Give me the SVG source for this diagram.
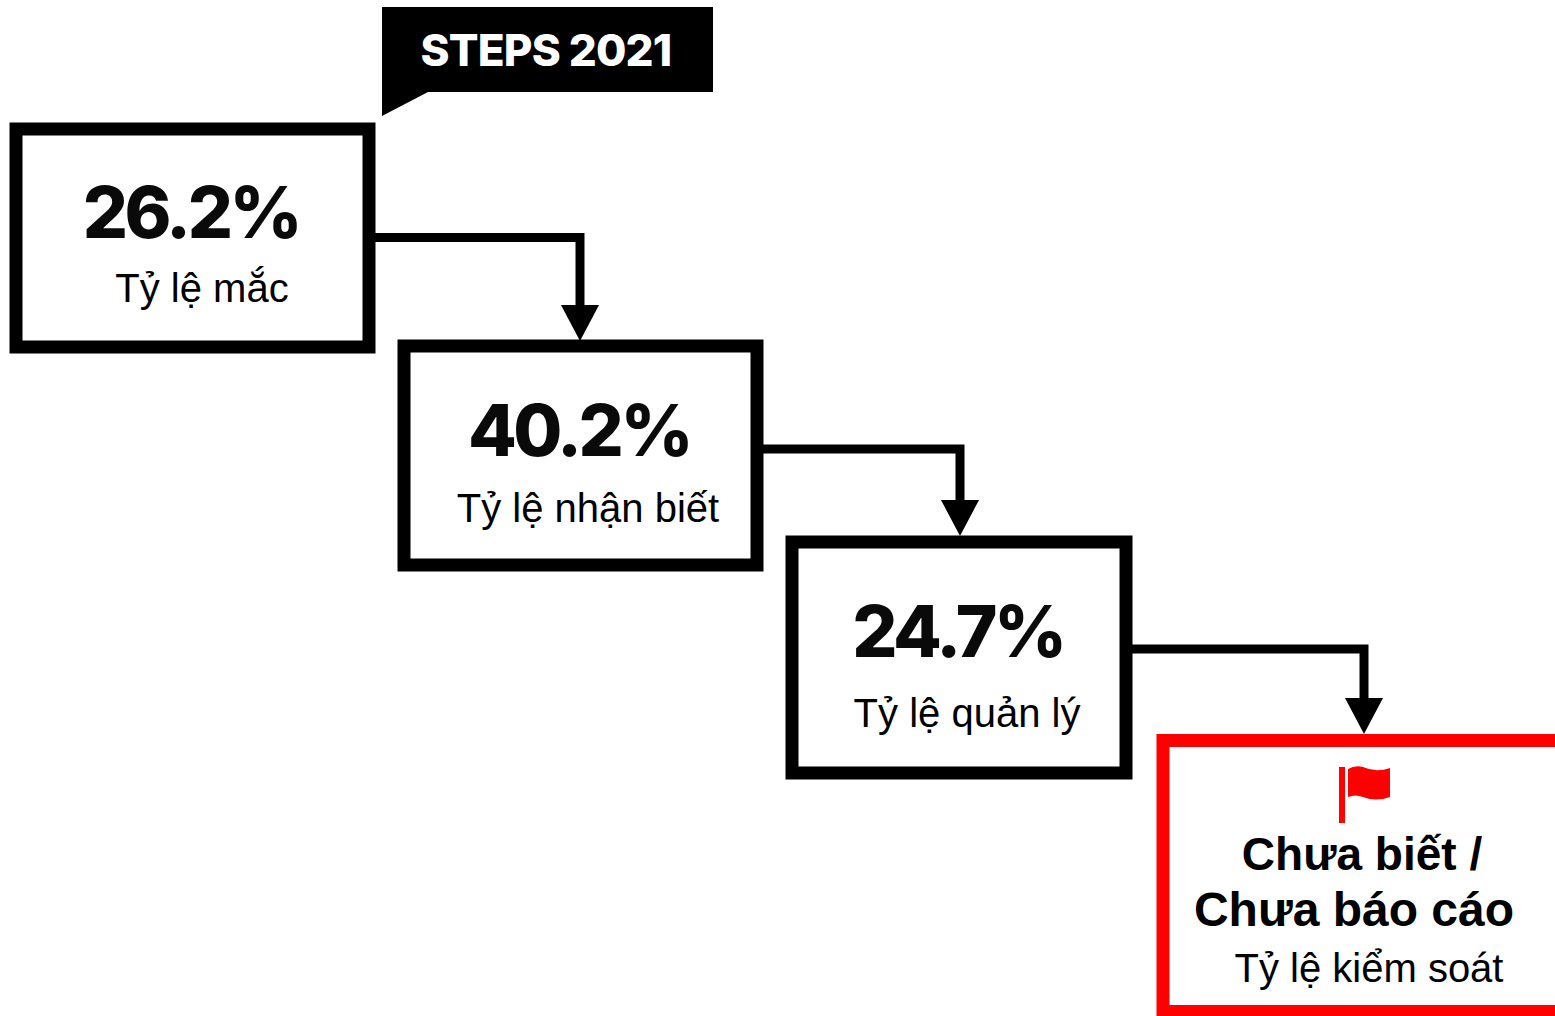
<svg xmlns="http://www.w3.org/2000/svg" width="1555" height="1016" viewBox="0 0 1555 1016">
<defs><style>
.box{fill:#fff;stroke:#000;stroke-width:13}
.red{fill:#fff;stroke:#fe0000;stroke-width:13}
.num{font-family:Inter,"Liberation Sans",sans-serif;font-weight:800;font-size:71px;fill:#0a0a0a;text-anchor:middle;letter-spacing:-3.4px}
.lab{font-family:"Liberation Sans",sans-serif;font-size:40px;fill:#000;text-anchor:middle}
.big{font-family:"Liberation Sans",sans-serif;font-weight:700;font-size:48px;fill:#000;text-anchor:middle}
.conn{fill:none;stroke:#000;stroke-width:9}
</style>
<marker id="arrow" markerUnits="userSpaceOnUse" markerWidth="36" markerHeight="38" refX="0" refY="19" orient="auto"><polygon points="0,0 36,19 0,38" fill="#000"/></marker>
</defs>
<rect width="1555" height="1016" fill="#fff"/>
<g id="connectors">
<path class="conn" d="M375 237.500H580V305" marker-end="url(#arrow)"/>
<path class="conn" d="M763 449H960V500" marker-end="url(#arrow)"/>
<path class="conn" d="M1132 649H1364V698" marker-end="url(#arrow)"/>
</g>
<g id="badge"><polygon points="382,7 713,7 713,92 428,92 382,116" fill="#000"/><text x="546" y="66" font-family="Inter,'Liberation Sans',sans-serif" font-weight="800" font-size="44" fill="#fff" text-anchor="middle" letter-spacing="-0.8">STEPS 2021</text></g>
<g id="node1"><rect class="box" x="16" y="129" width="353" height="218"/><text class="num" x="191" y="238">26.2%</text><text class="lab" x="202" y="302">Tỷ lệ mắc</text></g>
<g id="node2"><rect class="box" x="404" y="346" width="353" height="219"/><text class="num" x="579" y="456">40.2%</text><text class="lab" x="588" y="522">Tỷ lệ nhận biết</text></g>
<g id="node3"><rect class="box" x="792" y="542" width="334" height="231"/><text class="num" x="958" y="657">24.7%</text><text class="lab" x="967" y="727">Tỷ lệ quản lý</text></g>
<g id="node4"><rect class="red" x="1163" y="740.500" width="420" height="271"/>
<rect x="1339" y="767" width="6" height="56" fill="#fe0000"/><path d="M1348 769Q1355 765 1363 767Q1376 773 1390 768V797Q1376 802 1363 797Q1355 794 1348 797Z" fill="#fe0000"/>
<text class="big" x="1362" y="870" style="font-size:46px">Chưa biết /</text><text class="big" x="1354" y="926">Chưa báo cáo</text><text class="lab" x="1369" y="982">Tỷ lệ kiểm soát</text></g>
</svg>
